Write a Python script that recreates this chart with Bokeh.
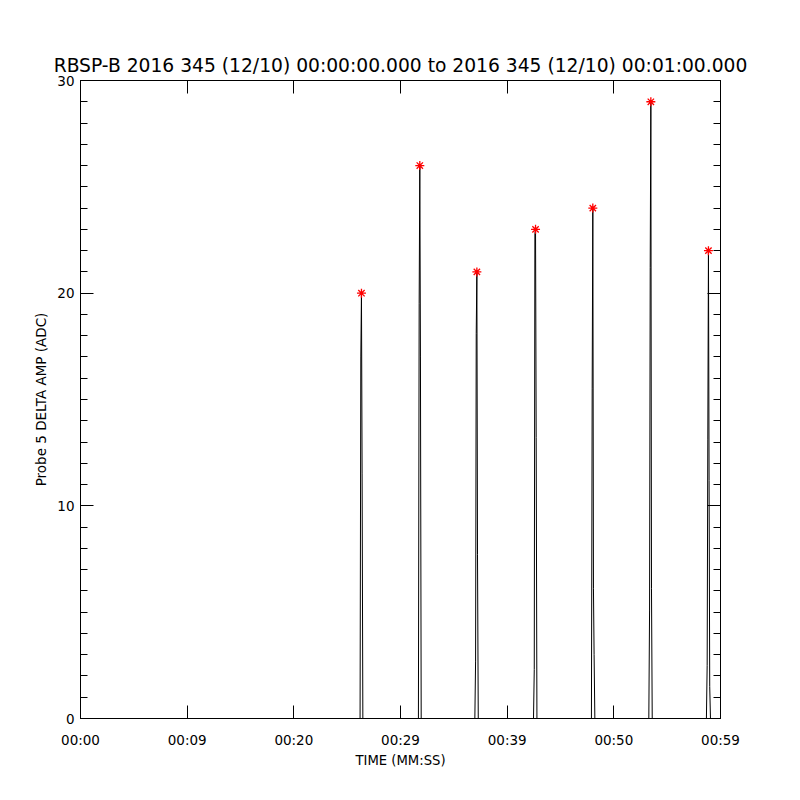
from bokeh.plotting import figure
from bokeh.models import Range1d, LinearAxis, FixedTicker
from bokeh.embed import file_html
from bokeh.resources import INLINE

# ---- data (seconds after 00:00:00, Probe 5 DELTA AMP in ADC) ----
b1_t = [26.21, 26.28, 26.34, 26.40, 26.47]
b1_v = [0, 17.0, 20, 11.5, 0]
b2_t = [31.68, 31.75, 31.81, 31.87, 31.94]
b2_v = [0, 19.5, 26, 17.0, 0]
b3_t = [36.97, 37.04, 37.10, 37.16, 37.22, 37.29]
b3_v = [0, 2.7, 18.1, 21, 7.7, 0]
b4_t = [42.47, 42.54, 42.60, 42.66, 42.72, 42.79]
b4_v = [0, 2.3, 22.8, 23, 13.2, 0]
b5_t = [47.90, 47.97, 48.03, 48.09, 48.15, 48.22]
b5_v = [0, 15.5, 24, 6.1, 3.0, 0]
b6_t = [53.28, 53.35, 53.41, 53.47, 53.53, 53.60]
b6_v = [0, 5.1, 21.2, 29, 6.1, 0]
b7_t = [58.68, 58.75, 58.81, 58.87, 58.93, 58.99, 59.06]
b7_v = [0, 2.5, 13.1, 22, 11.2, 1.5, 0]

peak_t = [26.34, 31.81, 37.16, 42.66, 48.03, 53.47, 58.87]
peak_v = [20, 26, 21, 23, 24, 29, 22]

x_ticks = [0, 10, 20, 30, 40, 50, 60]
x_tick_labels = ["00:00", "00:09", "00:20", "00:29", "00:39", "00:50", "00:59"]
y_ticks = [0, 10, 20, 30]
y_minor = list(range(0, 31))

title_text = "RBSP-B 2016 345 (12/10) 00:00:00.000 to 2016 345 (12/10) 00:01:00.000"

# build the full series
t_all = [0.0] + b1_t + b2_t + b3_t + b4_t + b5_t + b6_t + b7_t + [60.0]
v_all = [0] + b1_v + b2_v + b3_v + b4_v + b5_v + b6_v + b7_v + [0]

FONT = "DejaVu Sans"

p = figure(frame_width=640, frame_height=638,
           min_border_left=80, min_border_right=64,
           min_border_top=80, min_border_bottom=66,
           x_range=Range1d(0, 60), y_range=Range1d(0, 30),
           output_backend="svg", toolbar_location=None,
           title=title_text)

p.background_fill_color = "white"
p.border_fill_color = "white"
p.outline_line_color = "black"
p.outline_line_width = 1
p.xgrid.visible = False
p.ygrid.visible = False

p.title.align = "center"
p.title.text_font = FONT
p.title.text_font_size = "18.7px"
p.title.text_font_style = "normal"
p.title.text_color = "black"
p.title.standoff = 9

xa = p.xaxis[0]
xa.ticker = FixedTicker(ticks=x_ticks)
xa.major_label_overrides = {t: s for t, s in zip(x_ticks, x_tick_labels)}
xa.major_tick_in = 13
xa.major_tick_out = 0
xa.minor_tick_in = 0
xa.minor_tick_out = 0
xa.major_label_standoff = 13
xa.major_label_text_font = FONT
xa.major_label_text_font_size = "13.5px"
xa.major_label_text_color = "black"
xa.axis_label = "TIME (MM:SS)"
xa.axis_label_text_font = FONT
xa.axis_label_text_font_size = "13.2px"
xa.axis_label_text_font_style = "normal"
xa.axis_label_text_color = "black"
xa.axis_label_standoff = 2
xa.axis_line_color = "black"
xa.major_tick_line_color = "black"

ya = p.yaxis[0]
ya.ticker = FixedTicker(ticks=y_ticks, minor_ticks=y_minor)
ya.major_tick_in = 13
ya.major_tick_out = 0
ya.minor_tick_in = 7
ya.minor_tick_out = 0
ya.major_label_standoff = 6
ya.major_label_text_font = FONT
ya.major_label_text_font_size = "13.5px"
ya.major_label_text_color = "black"
ya.axis_label = "Probe 5 DELTA AMP (ADC)"
ya.axis_label_text_font = FONT
ya.axis_label_text_font_size = "13.5px"
ya.axis_label_text_font_style = "normal"
ya.axis_label_text_color = "black"
ya.axis_label_standoff = 5
ya.axis_line_color = "black"
ya.major_tick_line_color = "black"
ya.minor_tick_line_color = "black"

top = LinearAxis(ticker=FixedTicker(ticks=x_ticks),
                 major_tick_in=13, major_tick_out=0,
                 minor_tick_in=0, minor_tick_out=0,
                 major_label_overrides={t: "" for t in x_ticks},
                 major_label_text_font_size="0px",
                 major_label_standoff=0)
p.add_layout(top, "above")

right = LinearAxis(ticker=FixedTicker(ticks=y_ticks, minor_ticks=y_minor),
                   major_tick_in=13, major_tick_out=0,
                   minor_tick_in=7, minor_tick_out=0,
                   major_label_overrides={t: "" for t in y_ticks},
                   major_label_text_font_size="0px",
                   major_label_standoff=0)
p.add_layout(right, "right")

p.line(t_all, v_all, line_color="black", line_width=1)
p.scatter(peak_t, peak_v, marker="asterisk", size=9,
          line_color="red", line_width=1.3)

open("out.html", "w").write(file_html(p, INLINE))
